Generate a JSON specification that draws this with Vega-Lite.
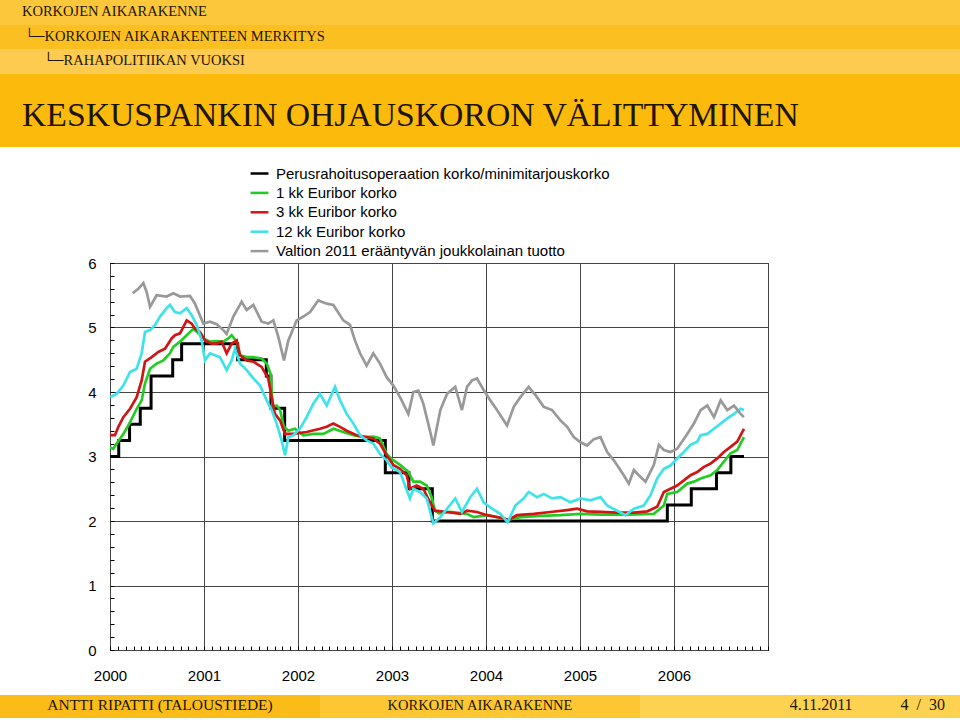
{
  "$schema": "https://vega.github.io/schema/vega-lite/v6.json",
  "padding": 0,
  "background": "white",
  "spacing": 0,
  "bounds": "full",
  "config": {"view": {"stroke": null}, "concat": {"spacing": 0}, "title": {"font": "Liberation Serif", "fontWeight": "normal", "color": "#1e1500"}},
  "datasets": {
    "base": [
      {"t": 2000.0, "v": 3.0}, {"t": 2000.093, "v": 3.25}, {"t": 2000.208, "v": 3.5}, {"t": 2000.322, "v": 3.75},
      {"t": 2000.437, "v": 4.25}, {"t": 2000.667, "v": 4.5}, {"t": 2000.762, "v": 4.75}, {"t": 2001.358, "v": 4.5},
      {"t": 2001.663, "v": 4.25}, {"t": 2001.712, "v": 3.75}, {"t": 2001.858, "v": 3.25}, {"t": 2002.929, "v": 2.75},
      {"t": 2003.18, "v": 2.5}, {"t": 2003.429, "v": 2.0}, {"t": 2005.929, "v": 2.25}, {"t": 2006.184, "v": 2.5},
      {"t": 2006.452, "v": 2.75}, {"t": 2006.605, "v": 3.0}, {"t": 2006.745, "v": 3.0}
    ],
    "m1": [
      {"t": 2000.0, "v": 3.14}, {"t": 2000.035, "v": 3.12}, {"t": 2000.071, "v": 3.2}, {"t": 2000.142, "v": 3.35},
      {"t": 2000.213, "v": 3.53}, {"t": 2000.284, "v": 3.74}, {"t": 2000.337, "v": 3.87}, {"t": 2000.372, "v": 4.13},
      {"t": 2000.426, "v": 4.36}, {"t": 2000.496, "v": 4.44}, {"t": 2000.567, "v": 4.49}, {"t": 2000.638, "v": 4.6},
      {"t": 2000.674, "v": 4.7}, {"t": 2000.745, "v": 4.78}, {"t": 2000.816, "v": 4.88}, {"t": 2000.887, "v": 4.98},
      {"t": 2000.94, "v": 4.91}, {"t": 2000.993, "v": 4.83}, {"t": 2001.064, "v": 4.78}, {"t": 2001.135, "v": 4.79},
      {"t": 2001.206, "v": 4.78}, {"t": 2001.259, "v": 4.83}, {"t": 2001.294, "v": 4.88}, {"t": 2001.348, "v": 4.78},
      {"t": 2001.383, "v": 4.57}, {"t": 2001.454, "v": 4.54}, {"t": 2001.525, "v": 4.54}, {"t": 2001.613, "v": 4.52},
      {"t": 2001.667, "v": 4.44}, {"t": 2001.709, "v": 4.28}, {"t": 2001.73, "v": 3.77}, {"t": 2001.773, "v": 3.79},
      {"t": 2001.809, "v": 3.72}, {"t": 2001.851, "v": 3.46}, {"t": 2001.897, "v": 3.4}, {"t": 2001.968, "v": 3.43},
      {"t": 2002.057, "v": 3.33}, {"t": 2002.163, "v": 3.35}, {"t": 2002.27, "v": 3.35}, {"t": 2002.376, "v": 3.43},
      {"t": 2002.482, "v": 3.38}, {"t": 2002.589, "v": 3.33}, {"t": 2002.695, "v": 3.3}, {"t": 2002.801, "v": 3.31},
      {"t": 2002.872, "v": 3.28}, {"t": 2002.943, "v": 3.04}, {"t": 2002.996, "v": 2.96}, {"t": 2003.085, "v": 2.87},
      {"t": 2003.174, "v": 2.76}, {"t": 2003.227, "v": 2.61}, {"t": 2003.298, "v": 2.61}, {"t": 2003.369, "v": 2.55},
      {"t": 2003.422, "v": 2.37}, {"t": 2003.457, "v": 2.16}, {"t": 2003.5, "v": 2.12}, {"t": 2003.62, "v": 2.14},
      {"t": 2003.798, "v": 2.11}, {"t": 2003.869, "v": 2.06}, {"t": 2004.011, "v": 2.09}, {"t": 2004.153, "v": 2.05},
      {"t": 2004.241, "v": 2.02}, {"t": 2004.366, "v": 2.06}, {"t": 2004.579, "v": 2.08}, {"t": 2004.792, "v": 2.09},
      {"t": 2005.005, "v": 2.11}, {"t": 2005.218, "v": 2.1}, {"t": 2005.502, "v": 2.1}, {"t": 2005.786, "v": 2.11},
      {"t": 2005.892, "v": 2.24}, {"t": 2005.928, "v": 2.42}, {"t": 2006.034, "v": 2.45}, {"t": 2006.141, "v": 2.58},
      {"t": 2006.212, "v": 2.61}, {"t": 2006.283, "v": 2.66}, {"t": 2006.389, "v": 2.71}, {"t": 2006.46, "v": 2.79},
      {"t": 2006.531, "v": 2.92}, {"t": 2006.602, "v": 3.05}, {"t": 2006.673, "v": 3.1}, {"t": 2006.744, "v": 3.3}
    ],
    "m3": [
      {"t": 2000.0, "v": 3.33}, {"t": 2000.053, "v": 3.33}, {"t": 2000.089, "v": 3.46}, {"t": 2000.142, "v": 3.61},
      {"t": 2000.213, "v": 3.74}, {"t": 2000.284, "v": 3.92}, {"t": 2000.337, "v": 4.18}, {"t": 2000.372, "v": 4.47},
      {"t": 2000.443, "v": 4.54}, {"t": 2000.514, "v": 4.62}, {"t": 2000.585, "v": 4.67}, {"t": 2000.656, "v": 4.83},
      {"t": 2000.691, "v": 4.88}, {"t": 2000.745, "v": 4.91}, {"t": 2000.816, "v": 5.11}, {"t": 2000.869, "v": 5.06},
      {"t": 2000.904, "v": 4.98}, {"t": 2000.957, "v": 4.93}, {"t": 2001.011, "v": 4.8}, {"t": 2001.082, "v": 4.75},
      {"t": 2001.135, "v": 4.75}, {"t": 2001.188, "v": 4.78}, {"t": 2001.241, "v": 4.6}, {"t": 2001.294, "v": 4.75},
      {"t": 2001.348, "v": 4.8}, {"t": 2001.383, "v": 4.57}, {"t": 2001.454, "v": 4.49}, {"t": 2001.525, "v": 4.47},
      {"t": 2001.613, "v": 4.39}, {"t": 2001.684, "v": 4.21}, {"t": 2001.72, "v": 3.92}, {"t": 2001.755, "v": 3.66},
      {"t": 2001.809, "v": 3.56}, {"t": 2001.862, "v": 3.35}, {"t": 2001.95, "v": 3.35}, {"t": 2002.092, "v": 3.38},
      {"t": 2002.234, "v": 3.43}, {"t": 2002.305, "v": 3.46}, {"t": 2002.376, "v": 3.51}, {"t": 2002.447, "v": 3.46},
      {"t": 2002.518, "v": 3.4}, {"t": 2002.624, "v": 3.33}, {"t": 2002.73, "v": 3.3}, {"t": 2002.801, "v": 3.28},
      {"t": 2002.872, "v": 3.2}, {"t": 2002.943, "v": 3.02}, {"t": 2003.014, "v": 2.87}, {"t": 2003.085, "v": 2.81},
      {"t": 2003.156, "v": 2.71}, {"t": 2003.191, "v": 2.5}, {"t": 2003.262, "v": 2.55}, {"t": 2003.333, "v": 2.5},
      {"t": 2003.404, "v": 2.29}, {"t": 2003.457, "v": 2.16}, {"t": 2003.585, "v": 2.14}, {"t": 2003.727, "v": 2.11},
      {"t": 2003.798, "v": 2.16}, {"t": 2003.904, "v": 2.14}, {"t": 2004.011, "v": 2.09}, {"t": 2004.153, "v": 2.05},
      {"t": 2004.241, "v": 2.02}, {"t": 2004.33, "v": 2.09}, {"t": 2004.508, "v": 2.11}, {"t": 2004.685, "v": 2.14},
      {"t": 2004.863, "v": 2.17}, {"t": 2004.969, "v": 2.19}, {"t": 2005.076, "v": 2.15}, {"t": 2005.218, "v": 2.14},
      {"t": 2005.395, "v": 2.13}, {"t": 2005.573, "v": 2.13}, {"t": 2005.715, "v": 2.15}, {"t": 2005.821, "v": 2.22},
      {"t": 2005.892, "v": 2.45}, {"t": 2005.963, "v": 2.5}, {"t": 2006.034, "v": 2.55}, {"t": 2006.105, "v": 2.63},
      {"t": 2006.176, "v": 2.71}, {"t": 2006.247, "v": 2.76}, {"t": 2006.318, "v": 2.84}, {"t": 2006.389, "v": 2.89},
      {"t": 2006.46, "v": 2.97}, {"t": 2006.531, "v": 3.07}, {"t": 2006.602, "v": 3.15}, {"t": 2006.673, "v": 3.23},
      {"t": 2006.744, "v": 3.43}
    ],
    "m12": [
      {"t": 2000.0, "v": 3.92}, {"t": 2000.071, "v": 3.97}, {"t": 2000.142, "v": 4.1}, {"t": 2000.213, "v": 4.31},
      {"t": 2000.284, "v": 4.36}, {"t": 2000.337, "v": 4.6}, {"t": 2000.372, "v": 4.93}, {"t": 2000.426, "v": 4.96},
      {"t": 2000.479, "v": 5.04}, {"t": 2000.532, "v": 5.17}, {"t": 2000.603, "v": 5.3}, {"t": 2000.638, "v": 5.35},
      {"t": 2000.691, "v": 5.24}, {"t": 2000.745, "v": 5.22}, {"t": 2000.816, "v": 5.3}, {"t": 2000.869, "v": 5.19},
      {"t": 2000.922, "v": 5.04}, {"t": 2000.975, "v": 4.8}, {"t": 2001.011, "v": 4.49}, {"t": 2001.064, "v": 4.6},
      {"t": 2001.117, "v": 4.57}, {"t": 2001.17, "v": 4.54}, {"t": 2001.241, "v": 4.34}, {"t": 2001.294, "v": 4.49},
      {"t": 2001.33, "v": 4.67}, {"t": 2001.383, "v": 4.44}, {"t": 2001.454, "v": 4.34}, {"t": 2001.525, "v": 4.21},
      {"t": 2001.596, "v": 4.1}, {"t": 2001.667, "v": 3.87}, {"t": 2001.72, "v": 3.72}, {"t": 2001.773, "v": 3.51},
      {"t": 2001.826, "v": 3.25}, {"t": 2001.862, "v": 3.02}, {"t": 2001.897, "v": 3.3}, {"t": 2001.95, "v": 3.33},
      {"t": 2002.021, "v": 3.43}, {"t": 2002.092, "v": 3.61}, {"t": 2002.163, "v": 3.82}, {"t": 2002.234, "v": 3.97},
      {"t": 2002.305, "v": 3.79}, {"t": 2002.394, "v": 4.08}, {"t": 2002.447, "v": 3.87}, {"t": 2002.518, "v": 3.66},
      {"t": 2002.589, "v": 3.51}, {"t": 2002.66, "v": 3.33}, {"t": 2002.73, "v": 3.25}, {"t": 2002.801, "v": 3.2},
      {"t": 2002.872, "v": 3.04}, {"t": 2002.943, "v": 2.94}, {"t": 2002.996, "v": 2.83}, {"t": 2003.085, "v": 2.76},
      {"t": 2003.191, "v": 2.35}, {"t": 2003.227, "v": 2.5}, {"t": 2003.298, "v": 2.45}, {"t": 2003.369, "v": 2.35},
      {"t": 2003.44, "v": 1.96}, {"t": 2003.514, "v": 2.06}, {"t": 2003.585, "v": 2.19}, {"t": 2003.673, "v": 2.35},
      {"t": 2003.744, "v": 2.14}, {"t": 2003.833, "v": 2.37}, {"t": 2003.904, "v": 2.5}, {"t": 2003.975, "v": 2.29},
      {"t": 2004.064, "v": 2.19}, {"t": 2004.153, "v": 2.11}, {"t": 2004.231, "v": 1.98}, {"t": 2004.312, "v": 2.24},
      {"t": 2004.401, "v": 2.35}, {"t": 2004.454, "v": 2.45}, {"t": 2004.543, "v": 2.37}, {"t": 2004.614, "v": 2.42},
      {"t": 2004.703, "v": 2.35}, {"t": 2004.792, "v": 2.37}, {"t": 2004.898, "v": 2.29}, {"t": 2005.005, "v": 2.35},
      {"t": 2005.111, "v": 2.32}, {"t": 2005.218, "v": 2.37}, {"t": 2005.289, "v": 2.24}, {"t": 2005.395, "v": 2.16},
      {"t": 2005.484, "v": 2.09}, {"t": 2005.573, "v": 2.19}, {"t": 2005.679, "v": 2.24}, {"t": 2005.75, "v": 2.4},
      {"t": 2005.821, "v": 2.66}, {"t": 2005.892, "v": 2.81}, {"t": 2005.963, "v": 2.86}, {"t": 2006.034, "v": 2.97},
      {"t": 2006.105, "v": 3.07}, {"t": 2006.176, "v": 3.18}, {"t": 2006.247, "v": 3.23}, {"t": 2006.283, "v": 3.33},
      {"t": 2006.354, "v": 3.35}, {"t": 2006.425, "v": 3.43}, {"t": 2006.496, "v": 3.51}, {"t": 2006.567, "v": 3.59},
      {"t": 2006.638, "v": 3.66}, {"t": 2006.709, "v": 3.74}, {"t": 2006.744, "v": 3.72}
    ],
    "gov": [
      {"t": 2000.241, "v": 5.53}, {"t": 2000.301, "v": 5.6}, {"t": 2000.355, "v": 5.69}, {"t": 2000.39, "v": 5.55},
      {"t": 2000.426, "v": 5.32}, {"t": 2000.496, "v": 5.5}, {"t": 2000.603, "v": 5.48}, {"t": 2000.674, "v": 5.53},
      {"t": 2000.745, "v": 5.48}, {"t": 2000.851, "v": 5.49}, {"t": 2000.904, "v": 5.37}, {"t": 2000.993, "v": 5.06},
      {"t": 2001.064, "v": 5.09}, {"t": 2001.135, "v": 5.05}, {"t": 2001.206, "v": 4.96}, {"t": 2001.241, "v": 4.9},
      {"t": 2001.312, "v": 5.17}, {"t": 2001.401, "v": 5.4}, {"t": 2001.454, "v": 5.27}, {"t": 2001.525, "v": 5.35},
      {"t": 2001.613, "v": 5.09}, {"t": 2001.684, "v": 5.06}, {"t": 2001.738, "v": 5.11}, {"t": 2001.791, "v": 4.85},
      {"t": 2001.851, "v": 4.49}, {"t": 2001.897, "v": 4.8}, {"t": 2001.986, "v": 5.11}, {"t": 2002.057, "v": 5.17},
      {"t": 2002.128, "v": 5.24}, {"t": 2002.216, "v": 5.42}, {"t": 2002.305, "v": 5.37}, {"t": 2002.376, "v": 5.35},
      {"t": 2002.482, "v": 5.11}, {"t": 2002.553, "v": 5.04}, {"t": 2002.606, "v": 4.8}, {"t": 2002.66, "v": 4.6},
      {"t": 2002.73, "v": 4.41}, {"t": 2002.801, "v": 4.6}, {"t": 2002.872, "v": 4.44}, {"t": 2002.943, "v": 4.23},
      {"t": 2003.014, "v": 4.1}, {"t": 2003.085, "v": 3.92}, {"t": 2003.174, "v": 3.66}, {"t": 2003.227, "v": 4.0},
      {"t": 2003.28, "v": 4.02}, {"t": 2003.333, "v": 3.82}, {"t": 2003.404, "v": 3.4}, {"t": 2003.44, "v": 3.17},
      {"t": 2003.514, "v": 3.72}, {"t": 2003.585, "v": 3.97}, {"t": 2003.673, "v": 4.08}, {"t": 2003.744, "v": 3.72},
      {"t": 2003.798, "v": 4.08}, {"t": 2003.851, "v": 4.18}, {"t": 2003.904, "v": 4.21}, {"t": 2003.975, "v": 4.03},
      {"t": 2004.046, "v": 3.87}, {"t": 2004.117, "v": 3.72}, {"t": 2004.224, "v": 3.48}, {"t": 2004.295, "v": 3.77},
      {"t": 2004.366, "v": 3.92}, {"t": 2004.454, "v": 4.08}, {"t": 2004.543, "v": 3.92}, {"t": 2004.614, "v": 3.77},
      {"t": 2004.703, "v": 3.72}, {"t": 2004.792, "v": 3.56}, {"t": 2004.863, "v": 3.46}, {"t": 2004.934, "v": 3.3},
      {"t": 2005.005, "v": 3.22}, {"t": 2005.076, "v": 3.17}, {"t": 2005.147, "v": 3.27}, {"t": 2005.218, "v": 3.3},
      {"t": 2005.289, "v": 3.07}, {"t": 2005.36, "v": 2.94}, {"t": 2005.466, "v": 2.71}, {"t": 2005.519, "v": 2.58},
      {"t": 2005.573, "v": 2.79}, {"t": 2005.626, "v": 2.71}, {"t": 2005.697, "v": 2.61}, {"t": 2005.786, "v": 2.87},
      {"t": 2005.839, "v": 3.18}, {"t": 2005.892, "v": 3.1}, {"t": 2005.963, "v": 3.07}, {"t": 2006.034, "v": 3.12},
      {"t": 2006.141, "v": 3.35}, {"t": 2006.212, "v": 3.51}, {"t": 2006.283, "v": 3.72}, {"t": 2006.354, "v": 3.79},
      {"t": 2006.425, "v": 3.61}, {"t": 2006.496, "v": 3.87}, {"t": 2006.567, "v": 3.72}, {"t": 2006.638, "v": 3.79},
      {"t": 2006.709, "v": 3.66}, {"t": 2006.744, "v": 3.61}
    ]
  },
  "vconcat": [
    {
      "width": 960, "height": 25,
      "view": {"fill": "#FCC73B", "stroke": null},
      "data": {"values": []}, "mark": "point",
      "title": {"text": "KORKOJEN AIKARAKENNE", "anchor": "start", "frame": "group", "offset": -19, "dx": 22, "fontSize": 14.5}
    },
    {
      "width": 960, "height": 24,
      "view": {"fill": "#FBBF22", "stroke": null},
      "data": {"values": []}, "mark": "point",
      "title": {"text": "└─KORKOJEN AIKARAKENTEEN MERKITYS", "anchor": "start", "frame": "group", "offset": -19, "dx": 24, "fontSize": 14.5}
    },
    {
      "width": 960, "height": 25,
      "view": {"fill": "#FCCB4F", "stroke": null},
      "data": {"values": []}, "mark": "point",
      "title": {"text": "└─RAHAPOLITIIKAN VUOKSI", "anchor": "start", "frame": "group", "offset": -19, "dx": 43, "fontSize": 14.5}
    },
    {
      "width": 960, "height": 73,
      "view": {"fill": "#FBBA0C", "stroke": null},
      "data": {"values": []}, "mark": "point",
      "title": {"text": "KESKUSPANKIN OHJAUSKORON VÄLITTYMINEN", "anchor": "start", "frame": "group", "offset": -59, "dx": 22, "fontSize": 33.7}
    },
    {
      "width": 960, "height": 108,
      "data": {"values": []}, "mark": "point"
    },
    {
      "spacing": 0,
      "bounds": "flush",
      "hconcat": [
        {"width": 110, "height": 387, "data": {"values": []}, "mark": "point"},
        {
          "width": 658, "height": 387,
          "view": {"stroke": "#000000", "strokeWidth": 1, "fill": "white"},
          "resolve": {"axis": {"x": "independent", "y": "independent"}},
          "layer": [
            {
              "encoding": {
                "x": {
                  "field": "t", "type": "quantitative",
                  "scale": {"domain": [2000, 2007], "nice": false, "zero": false},
                  "axis": {
                    "title": null, "domain": false, "format": "d", "orient": "bottom",
                    "values": [2000, 2001, 2002, 2003, 2004, 2005, 2006, 2007],
                    "labelExpr": "datum.value < 2007 ? datum.label : ''",
                    "labelOverlap": false, "labelFlush": false,
                    "labelFont": "Liberation Sans", "labelFontSize": 15, "labelColor": "#000000", "labelPadding": 22,
                    "tickSize": -4, "tickColor": "#000000", "tickWidth": 1,
                    "grid": true, "gridColor": "#444444", "gridWidth": 1, "gridOpacity": 1
                  }
                },
                "y": {
                  "field": "v", "type": "quantitative",
                  "scale": {"domain": [0, 6], "nice": false, "zero": false},
                  "axis": {
                    "title": null, "domain": false, "format": "d", "orient": "left",
                    "values": [0, 1, 2, 3, 4, 5, 6],
                    "labelOverlap": false, "labelFlush": false,
                    "labelFont": "Liberation Sans", "labelFontSize": 15, "labelColor": "#000000", "labelPadding": 18,
                    "tickSize": -4, "tickColor": "#000000", "tickWidth": 1,
                    "grid": true, "gridColor": "#444444", "gridWidth": 1, "gridOpacity": 1
                  }
                }
              },
              "layer": [
                {
                  "data": {"name": "base"},
                  "mark": {"type": "line", "interpolate": "step-after", "strokeWidth": 3},
                  "encoding": {
                    "color": {
                      "datum": "Perusrahoitusoperaation korko/minimitarjouskorko", "type": "nominal",
                      "scale": {
                        "domain": ["Perusrahoitusoperaation korko/minimitarjouskorko", "1 kk Euribor korko", "3 kk Euribor korko", "12 kk Euribor korko", "Valtion 2011 erääntyvän joukkolainan tuotto"],
                        "range": ["#000000", "#22CC22", "#D01515", "#3DE3EA", "#999999"]
                      },
                      "legend": {
                        "orient": "none", "legendX": 249, "legendY": 163, "title": null, "direction": "vertical",
                        "symbolType": "stroke", "symbolStrokeWidth": 2.5, "symbolSize": 320,
                        "labelFont": "Liberation Sans", "labelFontSize": 15, "labelColor": "#000000", "labelLimit": 600,
                        "rowPadding": 0.4, "labelOffset": 6, "padding": 0
                      }
                    }
                  }
                },
                {
                  "data": {"name": "m1"},
                  "mark": {"type": "line", "strokeWidth": 2.7},
                  "encoding": {"color": {"datum": "1 kk Euribor korko", "type": "nominal"}}
                },
                {
                  "data": {"name": "m3"},
                  "mark": {"type": "line", "strokeWidth": 2.7},
                  "encoding": {"color": {"datum": "3 kk Euribor korko", "type": "nominal"}}
                },
                {
                  "data": {"name": "m12"},
                  "mark": {"type": "line", "strokeWidth": 2.7},
                  "encoding": {"color": {"datum": "12 kk Euribor korko", "type": "nominal"}}
                },
                {
                  "data": {"name": "gov"},
                  "mark": {"type": "line", "strokeWidth": 2.7},
                  "encoding": {"color": {"datum": "Valtion 2011 erääntyvän joukkolainan tuotto", "type": "nominal"}}
                }
              ]
            },
            {
              "data": {"values": []},
              "mark": "point",
              "encoding": {
                "x": {
                  "field": "t", "type": "quantitative",
                  "scale": {"domain": [2000, 2007], "nice": false, "zero": false},
                  "axis": {
                    "title": null, "domain": false, "labels": false, "grid": false, "orient": "bottom",
                    "values": [2000.0833, 2000.1667, 2000.25, 2000.3333, 2000.4167, 2000.5, 2000.5833, 2000.6667, 2000.75, 2000.8333, 2000.9167,
                               2001.0833, 2001.1667, 2001.25, 2001.3333, 2001.4167, 2001.5, 2001.5833, 2001.6667, 2001.75, 2001.8333, 2001.9167,
                               2002.0833, 2002.1667, 2002.25, 2002.3333, 2002.4167, 2002.5, 2002.5833, 2002.6667, 2002.75, 2002.8333, 2002.9167,
                               2003.0833, 2003.1667, 2003.25, 2003.3333, 2003.4167, 2003.5, 2003.5833, 2003.6667, 2003.75, 2003.8333, 2003.9167,
                               2004.0833, 2004.1667, 2004.25, 2004.3333, 2004.4167, 2004.5, 2004.5833, 2004.6667, 2004.75, 2004.8333, 2004.9167,
                               2005.0833, 2005.1667, 2005.25, 2005.3333, 2005.4167, 2005.5, 2005.5833, 2005.6667, 2005.75, 2005.8333, 2005.9167,
                               2006.0833, 2006.1667, 2006.25, 2006.3333, 2006.4167, 2006.5, 2006.5833, 2006.6667, 2006.75, 2006.8333, 2006.9167],
                    "tickSize": -4, "tickColor": "#000000", "tickWidth": 1
                  }
                },
                "y": {
                  "field": "v", "type": "quantitative",
                  "scale": {"domain": [0, 6], "nice": false, "zero": false},
                  "axis": {
                    "title": null, "domain": false, "labels": false, "grid": false, "orient": "left",
                    "values": [0.2, 0.4, 0.6, 0.8, 1.2, 1.4, 1.6, 1.8, 2.2, 2.4, 2.6, 2.8, 3.2, 3.4, 3.6, 3.8, 4.2, 4.4, 4.6, 4.8, 5.2, 5.4, 5.6, 5.8],
                    "tickSize": -4, "tickColor": "#000000", "tickWidth": 1
                  }
                }
              }
            }
          ]
        }
      ]
    },
    {
      "width": 960, "height": 11,
      "data": {"values": []}, "mark": "point"
    },
    {
      "spacing": 0,
      "bounds": "flush",
      "hconcat": [
        {
          "width": 320, "height": 23,
          "view": {"fill": "#FBBC1A", "stroke": null},
          "data": {"values": []}, "mark": "point",
          "title": {"text": "ANTTI RIPATTI  (TALOUSTIEDE)", "anchor": "middle", "frame": "group", "offset": -18, "fontSize": 15.5}
        },
        {
          "width": 320, "height": 23,
          "view": {"fill": "#FCC732", "stroke": null},
          "data": {"values": []}, "mark": "point",
          "title": {"text": "KORKOJEN AIKARAKENNE", "anchor": "middle", "frame": "group", "offset": -18, "fontSize": 14.5}
        },
        {
          "width": 320, "height": 23,
          "view": {"fill": "#FDD251", "stroke": null},
          "data": {"values": []}, "mark": "point",
          "title": {"text": "4.11.2011\u00a0\u00a0\u00a0\u00a0\u00a0\u00a0\u00a0\u00a0\u00a0\u00a0\u00a0\u00a04\u00a0\u00a0/\u00a0\u00a030", "anchor": "end", "frame": "group", "offset": -18, "dx": -15, "fontSize": 16}
        }
      ]
    }
  ]
}
